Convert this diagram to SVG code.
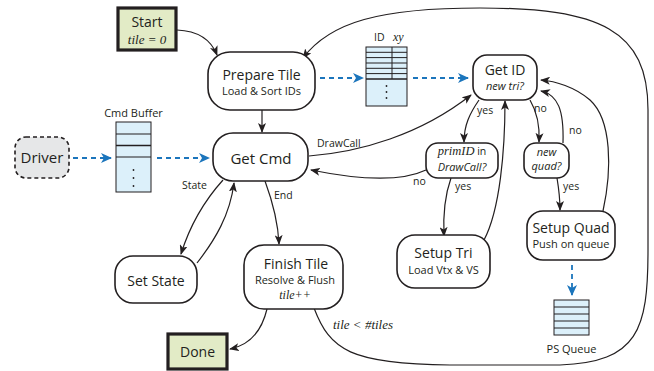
<svg xmlns="http://www.w3.org/2000/svg" width="654" height="371" viewBox="0 0 654 371">
<defs>
<marker id="ah" markerWidth="10" markerHeight="8" refX="9" refY="4" orient="auto" markerUnits="userSpaceOnUse">
<path d="M0,0 L10,4 L0,8 L2.5,4 z" fill="#231f20"/>
</marker>
<marker id="bh" markerWidth="11" markerHeight="10" refX="10" refY="5" orient="auto" markerUnits="userSpaceOnUse">
<path d="M0,0 L11,5 L0,10 L3,5 z" fill="#1b75bc"/>
</marker>
</defs>
<style>
.n{fill:#fff;stroke:#231f20;stroke-width:1.6}
.t{fill:#fff;stroke:#231f20;stroke-width:3.2}
.s{font-family:"Open Sans","Noto Sans",sans-serif;fill:#231f20;text-anchor:middle}
.big{font-size:14px}
.sm{font-size:11px}
.lb{font-size:10.5px;font-family:"Open Sans","Noto Sans",sans-serif;fill:#231f20}
.it{font-style:italic}
.sf{font-family:"Liberation Serif","DejaVu Serif",serif;font-style:italic;fill:#231f20}
.c{fill:none;stroke:#231f20;stroke-width:1.2;marker-end:url(#ah)}
.d{fill:none;stroke:#1b75bc;stroke-width:1.8;stroke-dasharray:5,4;marker-end:url(#bh)}
.tb{fill:#dcf0fa;stroke:#231f20;stroke-width:1}
.tl{stroke:#231f20;stroke-width:1}
</style>

<g id="connectors">
<path class="c" d="M177,30 C200,31 212,42 217,55"/>
<path class="c" d="M262,110 L262,132"/>
<path class="c" d="M314,308 C330,350 350,364 450,365 L560,365 C638,362 648,330 648,250 L648,110 C648,30 600,8 480,8 C380,8 330,22 303,58"/>
<path class="c" d="M223,180 C205,200 190,225 181,254"/>
<path class="c" d="M197,263 C215,240 230,215 234,183"/>
<path class="c" d="M265,181 C272,200 278,220 279,244"/>
<path class="c" d="M267,309 C262,330 250,345 230,349"/>
<path class="c" d="M309,156 C360,152 420,135 471,95"/>
<path class="c" d="M426,170 C405,180 370,182 311,170"/>
<path class="c" d="M479,100 C470,113 464,125 464,142"/>
<path class="c" d="M451,178 C445,195 443,215 444,236"/>
<path class="c" d="M484,240 C500,210 505,150 505,101"/>
<path class="c" d="M530,100 C537,112 540,125 539,142"/>
<path class="c" d="M563,143 C564,110 558,95 541,91"/>
<path class="c" d="M603,211 C612,170 612,120 590,100 C575,87 555,81 541,80"/>
<path class="c" d="M557,178 C559,190 560,198 560,210"/>
<path class="d" d="M320,78 L363,78"/>
<path class="d" d="M413,78 L468,78"/>
<path class="d" d="M73,158 L111,158"/>
<path class="d" d="M157,158 L209,158"/>
<path class="d" d="M572,265 L572,295"/>
</g>

<g id="edge-labels">
<text class="lb" x="182" y="189">State</text>
<text class="lb" x="274" y="199">End</text>
<text class="lb" x="317" y="147">DrawCall</text>
<text class="lb" x="413" y="185">no</text>
<text class="lb" x="477" y="114">yes</text>
<text class="lb" x="455" y="190">yes</text>
<text class="lb" x="534" y="112">no</text>
<text class="lb" x="569" y="134">no</text>
<text class="lb" x="563" y="190">yes</text>
<text class="sf" x="333" y="329" font-size="13">tile &lt; #tiles</text>
</g>

<g id="start">
<rect class="t" x="118" y="8" width="58" height="42" style="fill:#e2ebc6"/>
<text class="s big" x="147" y="27">Start</text>
<text class="sf" x="147" y="44" font-size="13" text-anchor="middle">tile = 0</text>
</g>

<g id="prepare-tile">
<rect class="n" x="208" y="52" width="107" height="58" rx="22"/>
<text class="s big" x="261.5" y="80">Prepare Tile</text>
<text class="s sm" x="261.5" y="95">Load &amp; Sort IDs</text>
</g>

<g id="id-table">
<text class="lb" x="374" y="41">ID</text>
<text class="sf" x="393" y="41" font-size="12">xy</text>
<rect class="tb" x="366" y="47" width="41" height="59"/>
<path class="tl" d="M366,52.3 H407 M366,57.6 H407 M366,63 H407 M366,68.3 H407 M366,73.6 H407 M392,47 V79"/>
<path d="M366,79 H407" stroke="#231f20" stroke-width="1.5"/>
<g fill="#231f20"><circle cx="386.5" cy="86" r="0.9"/><circle cx="386.5" cy="92" r="0.9"/><circle cx="386.5" cy="98" r="0.9"/></g>
</g>

<g id="get-id">
<rect class="n" x="473" y="55" width="64" height="45" rx="14"/>
<text class="s big" x="505" y="75">Get ID</text>
<text class="s sm it" x="505" y="90">new tri?</text>
</g>

<g id="driver">
<rect x="15" y="137" width="54" height="41" rx="11" fill="#e6e7e8" stroke="#231f20" stroke-width="1.6" stroke-dasharray="4,3"/>
<text class="s" font-size="15" x="42" y="163">Driver</text>
</g>

<g id="cmd-buffer">
<text class="s sm" x="133.5" y="117">Cmd Buffer</text>
<rect class="tb" x="116" y="122" width="35" height="70"/>
<path class="tl" d="M116,134 H151 M116,157 H151"/>
<path d="M116,145.5 H151" stroke="#231f20" stroke-width="1.5"/>
<g fill="#231f20"><circle cx="133.5" cy="170" r="0.9"/><circle cx="133.5" cy="178" r="0.9"/><circle cx="133.5" cy="186" r="0.9"/></g>
</g>

<g id="get-cmd">
<rect class="n" x="213" y="133" width="95" height="48" rx="20"/>
<text class="s" font-size="15" x="261" y="164">Get Cmd</text>
</g>

<g id="set-state">
<rect class="n" x="115" y="256" width="82" height="47" rx="18"/>
<text class="s big" x="156" y="286">Set State</text>
</g>

<g id="finish-tile">
<rect class="n" x="244" y="245" width="99" height="64" rx="20"/>
<text class="s big" x="296" y="269">Finish Tile</text>
<text class="s sm" x="295" y="284">Resolve &amp; Flush</text>
<text class="sf" x="295" y="299" font-size="12" text-anchor="middle">tile++</text>
</g>

<g id="done">
<rect class="t" x="168" y="334" width="59" height="35" style="fill:#e2ebc6"/>
<text class="s big" x="197.5" y="357">Done</text>
</g>

<g id="primid-check">
<rect class="n" x="426" y="143" width="72" height="35" rx="12"/>
<text x="462" y="155" text-anchor="middle"><tspan class="sf" font-size="12.5">primID</tspan><tspan class="lb" font-size="11"> in</tspan></text>
<text class="s sm it" x="462" y="171">DrawCall?</text>
</g>

<g id="new-quad">
<rect class="n" x="524" y="143" width="45" height="35" rx="12"/>
<text class="s sm it" x="546.5" y="156">new</text>
<text class="s sm it" x="546.5" y="170">quad?</text>
</g>

<g id="setup-tri">
<rect class="n" x="397" y="235" width="93" height="53" rx="18"/>
<text class="s big" x="443.5" y="258">Setup Tri</text>
<text class="s sm" x="443.5" y="274">Load Vtx &amp; VS</text>
</g>

<g id="setup-quad">
<rect class="n" x="527" y="211" width="88" height="49" rx="16"/>
<text class="s big" x="571" y="233">Setup Quad</text>
<text class="s sm" x="571" y="248">Push on queue</text>
</g>

<g id="ps-queue">
<rect class="tb" x="554" y="300" width="35" height="35"/>
<path class="tl" d="M554,307 H589 M554,314 H589 M554,321 H589 M554,328 H589"/>
<text class="s sm" x="571.5" y="353">PS Queue</text>
</g>
</svg>
